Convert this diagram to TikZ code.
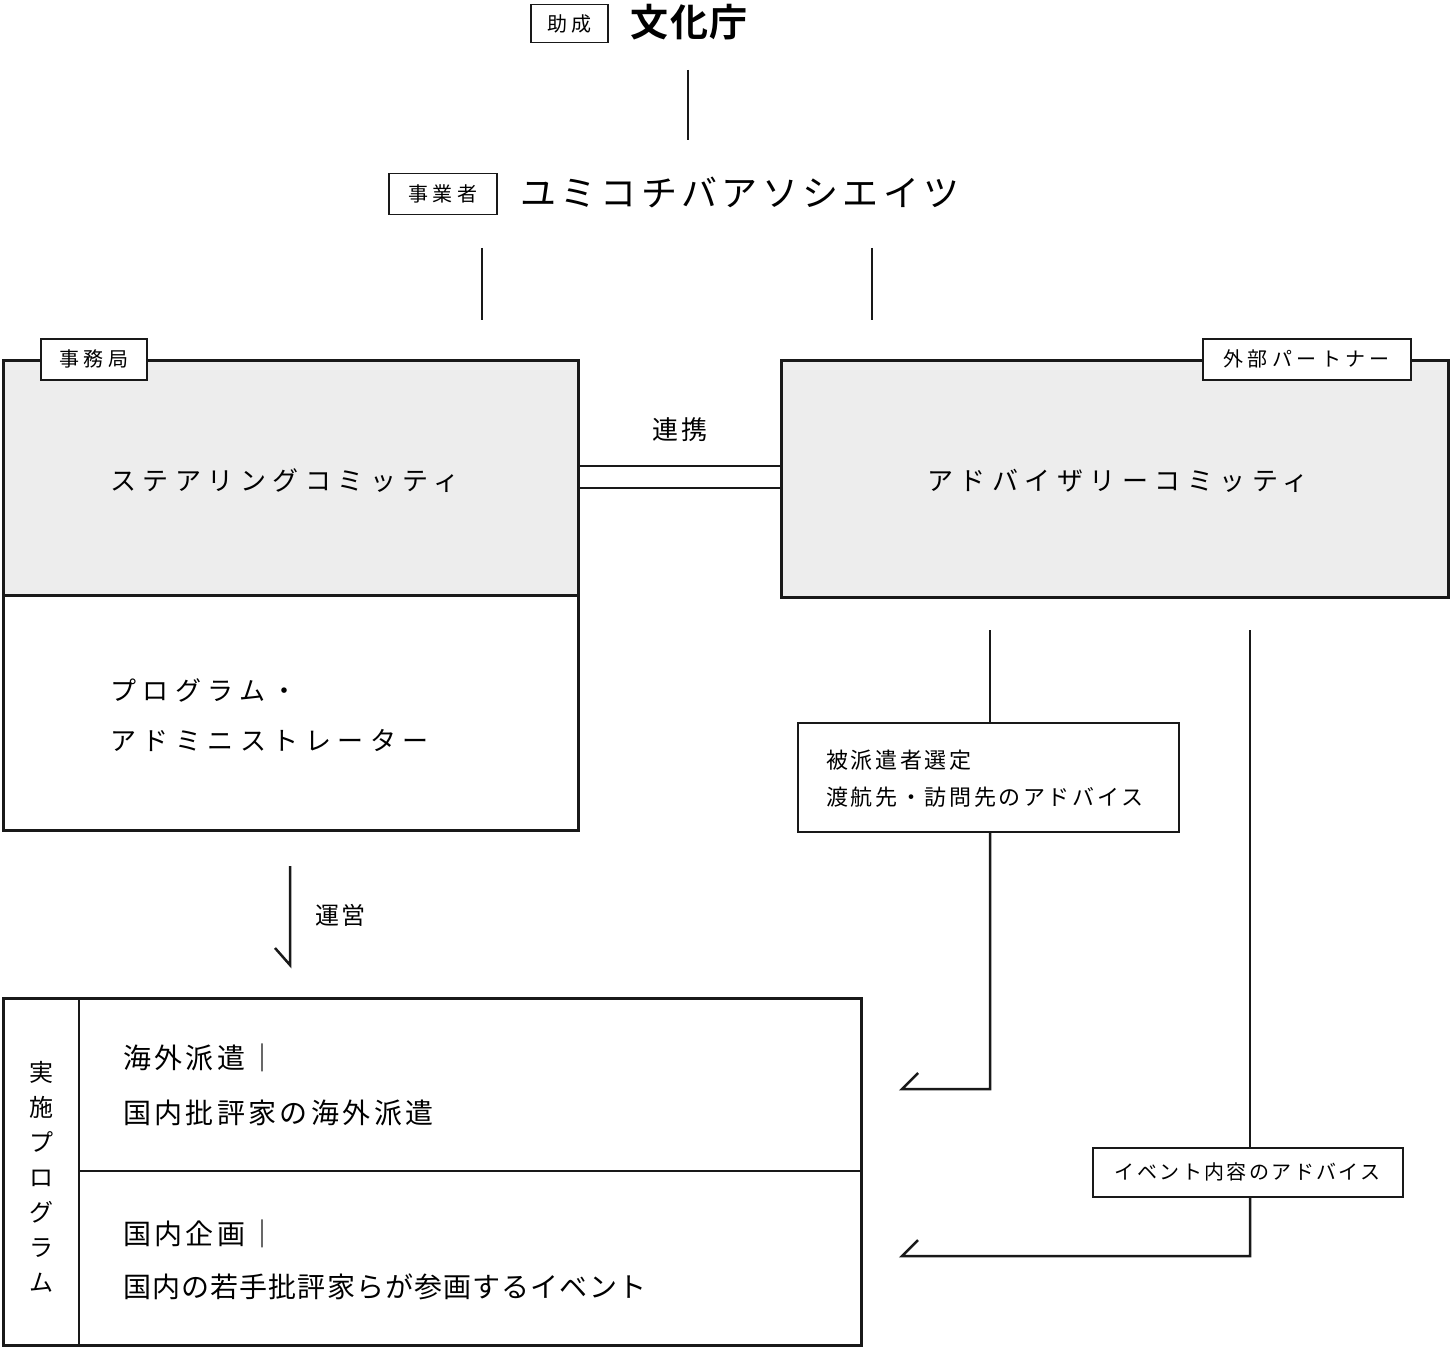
\documentclass[tikz,border=0pt]{standalone}
\usepackage{fontspec}
\newfontfamily\jp{Noto Sans CJK JP}
\newfontfamily\jpb{Noto Sans CJK JP Bold}
\newcommand{\ls}[1]{\addfontfeature{LetterSpace=#1}}
\begin{document}
\begin{tikzpicture}[x=1pt,y=-1pt,
  box/.style={draw=black!90,line width=3pt},
  lbl/.style={draw=black!90,fill=white,line width=1.5pt,font=\jp\fontsize{20}{24}\selectfont\ls{22},inner sep=0pt,anchor=north west},
  ln/.style={line width=2.5pt,draw=black!90},
  txt/.style={inner sep=0pt,anchor=west}]
\useasboundingbox (0,0) rectangle (1450,1348);
% top
\node[lbl,minimum width=77pt,minimum height=38pt] (zyosei) at (530,4) {助成};
\node[txt,font=\jpb\fontsize{38}{44}\selectfont\ls{5}] (bunka) at (630,22) {文化庁};
\coordinate (t1) at (688,70); \coordinate (t2) at (688,140);
\draw[ln] (t1)--(t2);
\node[lbl,minimum width=108pt,minimum height=41pt] (jigyo) at (388,173) {事業者};
\node[txt,font=\jp\fontsize{36}{42}\selectfont\ls{12}] (yumiko) at (520,192) {ユミコチバアソシエイツ};
\coordinate (a1) at (482,248); \coordinate (a2) at (482,320);
\coordinate (b1) at (872,248); \coordinate (b2) at (872,320);
\draw[ln] (a1)--(a2); \draw[ln] (b1)--(b2);
% left box
\fill[black!7] (3,360) rectangle (578,595);
\draw[box] (3,360) rectangle (578,830);
\draw[box] (3,595) -- (578,595);
\coordinate (L) at (578,477);
\node[lbl,minimum width=106pt,minimum height=41pt] (jimu) at (40,338) {事務局};
\node[txt,font=\jp\fontsize{26}{30}\selectfont\ls{25}] (steer) at (110,481) {ステアリングコミッティ};
\node[txt,font=\jp\fontsize{26}{30}\selectfont\ls{25}] (prog1) at (110,690) {プログラム・};
\node[txt,font=\jp\fontsize{26}{30}\selectfont\ls{25}] (prog2) at (110,740) {アドミニストレーター};
% right box
\fill[black!7] (781,360) rectangle (1448,597);
\draw[box] (781,360) rectangle (1448,597);
\node[lbl,minimum width=208pt,minimum height=41pt] (gaibu) at (1202,338) {外部パートナー};
\node[font=\jp\fontsize{26}{30}\selectfont\ls{25},inner sep=0pt] (adv) at (1118,481) {アドバイザリーコミッティ};
% link
\draw[ln,line width=2pt] (578,466) -- (781,466);
\draw[ln,line width=2pt] (578,488) -- (781,488);
\node[font=\jp\fontsize{26}{30}\selectfont\ls{15},inner sep=0pt] (renkei) at (680,430) {連携};
% unei arrow
\coordinate (u1) at (290,866); \coordinate (u2) at (290,965); \coordinate (u3) at (275,948);
\draw[ln,line join=miter] (u1)--(u2)--(u3);
\node[txt,font=\jp\fontsize{24}{28}\selectfont\ls{10}] (unei) at (315,915) {運営};
% bottom box
\draw[box] (3,998) rectangle (861,1345);
\draw[ln,line width=2pt] (79,998) -- (79,1345);
\draw[ln,line width=2pt] (79,1171) -- (861,1171);
\node[font=\jp\fontsize{24}{35}\selectfont,align=center,inner sep=0pt] (jissi) at (41,1177) {実\\施\\プ\\ロ\\グ\\ラ\\ム};
\node[txt,font=\jp\fontsize{28}{32}\selectfont\ls{12}] (k1) at (123,1058) {海外派遣｜};
\node[txt,font=\jp\fontsize{28}{32}\selectfont\ls{12}] (k2) at (123,1113) {国内批評家の海外派遣};
\node[txt,font=\jp\fontsize{28}{32}\selectfont\ls{12}] (k3) at (123,1234) {国内企画｜};
\node[txt,font=\jp\fontsize{28}{32}\selectfont\ls{4}] (k4) at (123,1287) {国内の若手批評家らが参画するイベント};
% connector 1
\node[draw=black!90,line width=1.5pt,minimum width=381pt,minimum height=109pt,anchor=north west,inner sep=0pt] (hb) at (797,722) {};
\node[txt,font=\jp\fontsize{22}{26}\selectfont\ls{12}] (h1) at (826,760) {被派遣者選定};
\node[txt,font=\jp\fontsize{22}{26}\selectfont\ls{12}] (h2) at (826,797) {渡航先・訪問先のアドバイス};
\coordinate (c1) at (990,630);
\coordinate (c2) at (990,1089); \coordinate (c3) at (902,1089); \coordinate (c4) at (918,1073);
\draw[ln] (c1) -- (hb.north -| c1);
\draw[ln,line join=miter] (hb.south -| c1) -- (c2) -- (c3) -- (c4);
% connector 2
\node[draw=black!90,line width=1.5pt,minimum width=310pt,minimum height=49pt,anchor=north west,inner sep=0pt,font=\jp\fontsize{20}{24}\selectfont\ls{12}] (ev) at (1092,1147) {イベント内容のアドバイス};
\coordinate (d1) at (1250,630);
\coordinate (d2) at (1250,1256); \coordinate (d3) at (902,1256); \coordinate (d4) at (918,1240);
\draw[ln] (d1) -- (ev.north -| d1);
\draw[ln,line join=miter] (ev.south -| d1) -- (d2) -- (d3) -- (d4);
\end{tikzpicture}
\end{document}
